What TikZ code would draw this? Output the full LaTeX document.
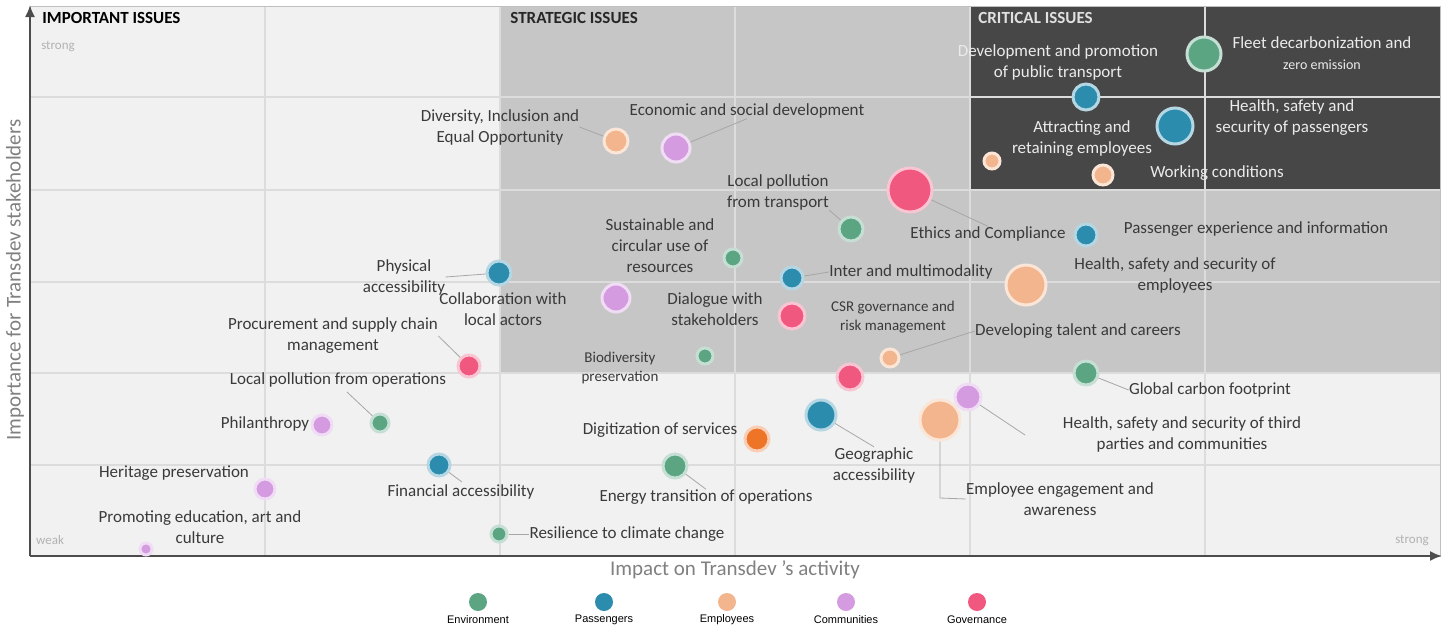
\documentclass[tikz,border=0pt]{standalone}
\usepackage{fontspec}
\setmainfont{Carlito}
\newfontfamily\keyfont{Liberation Sans}
\usetikzlibrary{arrows.meta}

\definecolor{envcol}{HTML}{5BA583}
\definecolor{pascol}{HTML}{2B8CAE}
\definecolor{empcol}{HTML}{F2B58E}
\definecolor{comcol}{HTML}{D59BE0}
\definecolor{govcol}{HTML}{F0587F}
\definecolor{digcol}{HTML}{EE7428}
\definecolor{bgcol}{HTML}{F1F1F1}
\definecolor{stratcol}{HTML}{C6C6C6}
\definecolor{critcol}{HTML}{474747}
\definecolor{gridcol}{HTML}{DCDCDC}
\definecolor{axistext}{HTML}{808080}
\definecolor{lbltext}{HTML}{3A3A3A}

\tikzset{
  bub/.style={circle, inner sep=0pt, line width=1.5pt},
  env/.style={bub, fill=envcol, draw=envcol!35},
  pas/.style={bub, fill=pascol, draw=pascol!35},
  emp/.style={bub, fill=empcol, draw=empcol!35},
  com/.style={bub, fill=comcol, draw=comcol!35},
  gov/.style={bub, fill=govcol, draw=govcol!35},
  dig/.style={bub, fill=digcol, draw=digcol!35},
  lbl/.style={font=\fontsize{8.5}{10.5}\selectfont, align=center, inner sep=0pt, text=lbltext},
  slbl/.style={lbl, font=\fontsize{7.5}{9.5}\selectfont},
  wlbl/.style={lbl, text=white!92!black},
  quad/.style={font=\bfseries\fontsize{8.5}{10}\selectfont, anchor=west, inner sep=0pt},
  faint/.style={font=\fontsize{6.5}{8}\selectfont, text=black!30, inner sep=0pt},
  axislbl/.style={font=\fontsize{10.5}{12}\selectfont, text=axistext, inner sep=0pt},
  keylbl/.style={font=\keyfont\fontsize{5.5}{6.5}\selectfont, inner sep=0pt},
  lead/.style={draw=black!35, line width=0.4pt},
  axis/.style={draw=black!70, line width=1pt, -{Latex[length=6pt,width=5pt]}},
}

\begin{document}
\begin{tikzpicture}[x=0.5pt,y=-0.5pt]
  \useasboundingbox (0,0) rectangle (1448,628);
  \fill[bgcol] (30,6) rectangle (1440,556);
  \fill[stratcol] (500,6) rectangle (1440,373);
  \fill[critcol] (970,6) rectangle (1440,190);
  \foreach \gx in {265,500,735,970,1205}
    \draw[gridcol, line width=0.6pt] (\gx,6) -- (\gx,556);
  \foreach \gy in {97,190,282,373,465}
    \draw[gridcol, line width=0.6pt] (30,\gy) -- (1440,\gy);
  \draw[black!25] (30,6) rectangle (1440,556);

  \coordinate (origin) at (30,556);
  \coordinate (ytop) at (30,5);
  \coordinate (xend) at (1442,556);
  \draw[axis] (origin) -- (ytop);
  \draw[axis] (origin) -- (xend);

  \node[quad] (impQ) at (42,18) {IMPORTANT ISSUES};
  \node[quad, text=black!85] (strQ) at (510,18) {STRATEGIC ISSUES};
  \node[quad, text=white!88!black] (criQ) at (978,18) {CRITICAL ISSUES};
  \node[faint] (strongY) at (58,47) {strong};
  \node[faint] (weakX) at (50,540) {weak};
  \node[faint] (strongX) at (1412,540) {strong};
  \node[axislbl, rotate=90] (ylab) at (15,280) {Importance for Transdev stakeholders};
  \node[axislbl] (xlab) at (735,570) {Impact on Transdev 's activity};

  \node[env, minimum size=17pt] (fleet) at (1204,54) {};
  \node[pas, minimum size=13pt] (pubtr) at (1086,97) {};
  \node[pas, minimum size=18pt] (hspas) at (1175,126) {};
  \node[emp, minimum size=8pt] (attract) at (992,161) {};
  \node[emp, minimum size=10pt] (workc) at (1103,175) {};
  \node[gov, minimum size=22pt] (ethics) at (910,190) {};
  \node[env, minimum size=12pt] (lpt) at (851,229) {};
  \node[pas, minimum size=11pt] (pexp) at (1086,235) {};
  \node[emp, minimum size=20pt] (hsemp) at (1026,285) {};
  \node[env, minimum size=9pt] (circ) at (733,258) {};
  \node[pas, minimum size=11pt] (multi) at (792,278) {};
  \node[pas, minimum size=12pt] (phys) at (499,273) {};
  \node[com, minimum size=14pt] (collab) at (616,298) {};
  \node[gov, minimum size=13pt] (dialog) at (792,316) {};
  \node[emp, minimum size=9pt] (talent) at (890,358) {};
  \node[env, minimum size=8pt] (biodiv) at (705,356) {};
  \node[gov, minimum size=11pt] (procure) at (469,366) {};
  \node[gov, minimum size=13pt] (csr) at (850,377) {};
  \node[env, minimum size=12pt] (carbon) at (1086,373) {};
  \node[com, minimum size=13pt] (third) at (968,397) {};
  \node[emp, minimum size=20pt] (engage) at (940,420) {};
  \node[pas, minimum size=15pt] (geo) at (821,415) {};
  \node[dig, minimum size=12pt] (digit) at (757,439) {};
  \node[env, minimum size=9pt] (lpo) at (380,423) {};
  \node[com, minimum size=10pt] (phil) at (322,425) {};
  \node[pas, minimum size=11pt] (finance) at (439,465) {};
  \node[env, minimum size=12pt] (energy) at (675,466) {};
  \node[com, minimum size=10pt] (heritage) at (265,489) {};
  \node[env, minimum size=8pt] (resil) at (499,534) {};
  \node[com, minimum size=6pt] (educ) at (146,549) {};
  \node[emp, minimum size=12pt] (divers) at (616,141) {};
  \node[com, minimum size=14pt] (econ) at (676,148) {};

  \node[wlbl] (pubtrL) at (1058,62) {Development and promotion\\of public transport};
  \node[wlbl] (fleetL) at (1322,53) {Fleet decarbonization and\\{\fontsize{7}{9}\selectfont zero emission}};
  \node[wlbl] (hspasL) at (1292,118) {Health, safety and\\security of passengers};
  \node[wlbl] (attractL) at (1082,139) {Attracting and\\retaining employees};
  \node[wlbl] (workcL) at (1217,173) {Working conditions};
  \node[lbl] (ethicsL) at (988,234) {Ethics and Compliance};
  \node[lbl] (pexpL) at (1256,229) {Passenger experience and information};
  \node[lbl] (hsempL) at (1175,275) {Health, safety and security of\\employees};
  \node[lbl] (lptL) at (778,192) {Local pollution\\from transport};
  \node[lbl] (circL) at (660,246) {Sustainable and\\circular use of\\resources};
  \node[lbl] (multiL) at (911,272) {Inter and multimodality};
  \node[lbl] (physL) at (404,277) {Physical\\accessibility};
  \node[lbl] (collabL) at (503,309) {Collaboration with\\local actors};
  \node[lbl] (dialogL) at (715,309) {Dialogue with\\stakeholders};
  \node[slbl] (csrL) at (893,317) {CSR governance and\\risk management};
  \node[lbl] (talentL) at (1078,331) {Developing talent and careers};
  \node[lbl] (procureL) at (333,336) {Procurement and supply chain\\management};
  \node[slbl] (biodivL) at (620,368) {Biodiversity\\preservation};
  \node[lbl] (lpoL) at (338,380) {Local pollution from operations};
  \node[lbl] (carbonL) at (1210,390) {Global carbon footprint};
  \node[lbl] (philL) at (265,424) {Philanthropy};
  \node[lbl] (thirdL) at (1182,434) {Health, safety and security of third\\parties and communities};
  \node[lbl] (digitL) at (660,430) {Digitization of services};
  \node[lbl] (geoL) at (874,465) {Geographic\\accessibility};
  \node[lbl] (heritageL) at (174,473) {Heritage preservation};
  \node[lbl] (financeL) at (461,492) {Financial accessibility};
  \node[lbl] (energyL) at (706,497) {Energy transition of operations};
  \node[lbl] (engageL) at (1060,499) {Employee engagement and\\awareness};
  \node[lbl] (educL) at (200,527) {Promoting education, art and\\culture};
  \node[lbl] (resilL) at (627,534) {Resilience to climate change};
  \node[lbl] (diversL) at (500,127) {Diversity, Inclusion and\\Equal Opportunity};
  \node[lbl] (econL) at (747,111) {Economic and social development};

  \coordinate (lpoT) at (347,392);
  \coordinate (financeT) at (462,482);
  \coordinate (engageB) at (940,498);
  \coordinate (thirdT) at (1025,435);
  \begin{scope}[lead]
    \draw (divers) -- (diversL.east);
    \draw (econ) -- (econL.south);
    \draw (ethics) -- (ethicsL.north);
    \draw (lpt) -- (lptL.south east);
    \draw (multi) -- (multiL.west);
    \draw (phys) -- (physL.east);
    \draw (procure) -- (procureL.east);
    \draw (lpo) -- (lpoT);
    \draw (finance) -- (financeT);
    \draw (energy) -- (energyL.north);
    \draw (resil) -- (resilL.west);
    \draw (geo) -- (geoL.north);
    \draw (engage) -- (engageB) -- (engageL.west);
    \draw (third) -- (thirdT);
    \draw (carbon) -- (carbonL.west);
    \draw (talent) -- (talentL.west);
  \end{scope}

  \node[env, minimum size=9pt, draw=none] (envK) at (478,602) {};
  \node[pas, minimum size=9pt, draw=none] (pasK) at (604,602) {};
  \node[emp, minimum size=9pt, draw=none] (empK) at (727,602) {};
  \node[com, minimum size=9pt, draw=none] (comK) at (846,602) {};
  \node[gov, minimum size=9pt, draw=none] (govK) at (977,602) {};
  \node[keylbl] (envKL) at (478,620) {Environment};
  \node[keylbl] (pasKL) at (604,620) {Passengers};
  \node[keylbl] (empKL) at (727,620) {Employees};
  \node[keylbl] (comKL) at (846,620) {Communities};
  \node[keylbl] (govKL) at (977,620) {Governance};
\end{tikzpicture}
\end{document}
